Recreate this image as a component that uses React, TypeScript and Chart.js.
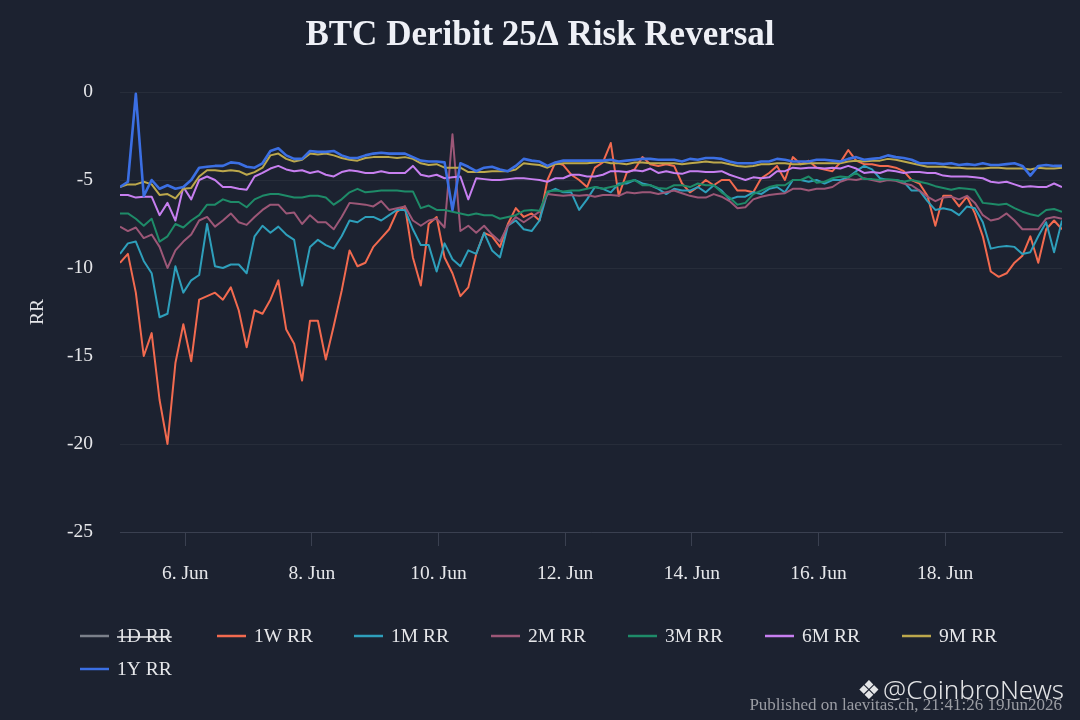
import React, { useEffect, useRef } from 'react';
import { Chart, registerables } from 'chart.js';

Chart.register(...registerables);

const TITLE = 'BTC Deribit 25Δ Risk Reversal';
const Y_TITLE = 'RR';
const CREDITS = 'Published on laevitas.ch, 21:41:26 19Jun2026';
const WATERMARK = '@CoinbroNews';
const SERIES_NAMES = ['1D RR', '1W RR', '1M RR', '2M RR', '3M RR', '6M RR', '9M RR', '1Y RR'];
const SERIES_COLORS = ['#7b808a', '#f26a4f', '#2e9fbb', '#9c5777', '#1e8b68', '#c77ff0', '#bca84c', '#3b6fe3'];
const SERIES_HIDDEN = [true, false, false, false, false, false, false, false];
const Y_TICKS = [0, -5, -10, -15, -20, -25];
const X_TICK_DAYS = [6, 8, 10, 12, 14, 16, 18];
const MONTH = 'Jun';
const START_DAY = 4.97; // day-of-June of the first sample
const STEP_DAY = 0.125; // 3-hour samples

const RR_1D: number[] = [];
const RR_1W = [
  -9.7, -9.2, -11.4, -15.0, -13.7, -17.5, -20.0, -15.4, -13.2, -15.3,
  -11.8, -11.6, -11.4, -11.8, -11.1, -12.4, -14.5, -12.4, -12.6, -11.8,
  -10.7, -13.5, -14.3, -16.4, -13.0, -13.0, -15.2, -13.3, -11.3, -9.0,
  -9.9, -9.7, -8.8, -8.3, -7.8, -6.8, -6.5, -9.4, -11.0, -7.5,
  -7.1, -9.4, -10.3, -11.6, -11.1, -9.2, -8.0, -8.2, -8.8, -7.5,
  -6.6, -7.1, -6.9, -7.3, -5.0, -4.0, -4.15, -4.7, -5.0, -5.4,
  -4.3, -4.0, -2.9, -5.9, -4.6, -4.4, -3.7, -4.1, -4.2, -4.1,
  -4.2, -5.2, -5.7, -5.4, -5.0, -5.3, -5.0, -5.0, -5.6, -5.6,
  -5.7, -4.9, -4.6, -4.2, -5.0, -3.7, -4.1, -3.9, -4.3, -4.4,
  -4.5, -4.0, -3.3, -3.9, -4.1, -4.1, -4.2, -4.2, -4.3, -4.5,
  -5.0, -5.2, -5.9, -7.6, -5.9, -5.9, -6.5, -5.95, -6.9, -8.2,
  -10.2, -10.5, -10.3, -9.7, -9.3, -8.2, -9.7, -7.8, -7.3, -7.8,
];
const RR_1M = [
  -9.2, -8.6, -8.5, -9.6, -10.3, -12.8, -12.6, -9.9, -11.4, -10.7,
  -10.4, -7.5, -9.9, -10.0, -9.8, -9.8, -10.3, -8.2, -7.6, -8.0,
  -7.65, -8.1, -8.4, -11.0, -8.8, -8.4, -8.7, -8.9, -8.2, -7.3,
  -7.4, -7.1, -7.1, -7.3, -7.0, -6.7, -6.7, -7.8, -8.7, -8.7,
  -10.2, -8.6, -9.5, -9.9, -9.0, -9.2, -8.0, -9.0, -9.4, -7.6,
  -7.3, -7.8, -7.9, -7.3, -5.7, -5.5, -5.7, -5.7, -6.7, -6.1,
  -5.4, -5.5, -5.7, -5.2, -5.2, -5.0, -5.2, -5.3, -5.5, -5.8,
  -5.5, -5.6, -5.6, -5.4, -5.7, -5.3, -5.6, -6.1, -5.95, -5.95,
  -5.7, -5.8, -5.5, -5.4, -5.7, -5.0, -5.0, -5.1, -5.0, -5.2,
  -5.0, -5.0, -4.85, -4.5, -4.2, -4.4, -4.9, -5.0, -5.0, -5.1,
  -5.6, -5.6, -6.2, -6.7, -6.6, -6.7, -7.0, -6.5, -6.6, -7.4,
  -8.9, -8.8, -8.75, -8.8, -9.2, -9.1, -8.2, -7.4, -9.1, -7.3,
];
const RR_2M = [
  -7.65, -7.9, -7.7, -8.3, -8.1, -8.8, -10.0, -9.0, -8.5, -8.1,
  -7.3, -7.1, -7.65, -7.3, -6.9, -7.4, -7.55, -7.1, -6.7, -6.4,
  -6.4, -6.9, -6.85, -7.5, -7.0, -7.4, -7.4, -7.8, -7.1, -6.3,
  -6.35, -6.4, -6.5, -6.2, -6.7, -6.6, -6.5, -7.3, -7.6, -7.3,
  -7.2, -7.7, -2.4, -7.9, -7.6, -8.0, -7.6, -8.1, -8.5, -7.6,
  -7.1, -7.4, -7.1, -6.8, -5.8, -5.85, -5.9, -5.85, -5.9, -5.85,
  -5.95, -5.85, -5.85, -5.9, -5.7, -5.75, -5.7, -5.7, -5.8, -5.7,
  -5.6, -5.75, -5.9, -6.0, -6.0, -5.8, -5.95, -6.2, -6.6, -6.55,
  -6.1, -5.95, -5.85, -5.8, -5.75, -5.5, -5.5, -5.6, -5.5, -5.5,
  -5.4, -5.1, -4.95, -5.0, -4.9, -5.0, -5.1, -5.0, -5.05, -5.2,
  -5.3, -5.6, -5.95, -6.2, -6.0, -5.95, -6.1, -5.9, -6.3, -7.0,
  -7.3, -7.2, -6.9, -7.3, -7.8, -7.8, -7.8, -7.2, -7.1, -7.2,
];
const RR_3M = [
  -6.9, -6.9, -7.2, -7.6, -7.2, -8.5, -8.2, -7.5, -7.7, -7.3,
  -7.0, -6.4, -6.4, -6.1, -6.25, -6.25, -6.55, -6.1, -5.9, -5.8,
  -5.8, -5.9, -6.0, -6.0, -5.9, -5.9, -6.0, -6.4, -6.1, -5.7,
  -5.5, -5.7, -5.65, -5.6, -5.6, -5.6, -5.65, -5.65, -6.6, -6.45,
  -6.7, -6.7, -6.8, -6.9, -7.0, -6.9, -7.0, -7.0, -7.2, -7.1,
  -7.0, -6.75, -6.7, -6.75, -5.65, -5.6, -5.65, -5.6, -5.6, -5.5,
  -5.4, -5.5, -5.4, -5.3, -5.1, -5.0, -5.3, -5.3, -5.45, -5.5,
  -5.3, -5.3, -5.4, -5.2, -5.3, -5.3, -5.7, -6.0, -6.4, -6.3,
  -5.8, -5.6, -5.4, -5.3, -5.3, -5.0, -5.0, -4.8, -5.15, -5.1,
  -4.9, -4.8, -4.85, -4.6, -4.95, -4.95, -5.0, -4.95, -5.0, -5.1,
  -5.0, -5.1, -5.2, -5.35, -5.45, -5.55, -5.45, -5.5, -5.55, -6.3,
  -6.35, -6.4, -6.35, -6.6, -6.8, -6.95, -7.05, -6.7, -6.65, -6.8,
];
const RR_6M = [
  -5.85, -5.85, -6.0, -5.95, -5.95, -7.0, -6.3, -7.3, -5.4, -6.1,
  -5.0, -4.8, -5.0, -5.4, -5.4, -5.5, -5.55, -4.8, -4.6, -4.35,
  -4.2, -4.4, -4.5, -4.45, -4.6, -4.5, -4.7, -4.8, -4.55, -4.45,
  -4.5, -4.6, -4.6, -4.5, -4.6, -4.6, -4.6, -4.2, -4.7, -4.8,
  -4.7, -4.9, -4.85, -4.8, -6.1, -4.9, -4.95, -5.0, -5.0, -4.95,
  -4.9, -4.9, -4.95, -5.0, -5.1, -4.9, -4.9, -4.7, -4.7, -4.8,
  -4.8, -4.7, -4.5, -4.5, -4.55, -4.45, -4.5, -4.35, -4.6, -4.5,
  -4.6, -4.65, -4.5, -4.5, -4.55, -4.55, -4.5, -4.7, -4.85, -5.0,
  -4.85, -4.9, -4.85, -4.5, -4.5, -4.3, -4.35, -4.3, -4.3, -4.35,
  -4.3, -4.35, -4.2, -4.35, -4.6, -4.55, -4.6, -4.45, -4.5, -4.6,
  -4.55, -4.55, -4.6, -4.6, -4.75, -4.8, -4.8, -4.8, -4.85, -4.9,
  -5.1, -5.15, -5.1, -5.25, -5.4, -5.35, -5.4, -5.4, -5.2, -5.4,
];
const RR_9M = [
  -5.4, -5.25, -5.25, -5.1, -5.25, -5.85, -5.8, -6.05, -5.5, -5.45,
  -4.8, -4.45, -4.45, -4.5, -4.45, -4.5, -4.7, -4.55, -4.3, -3.6,
  -3.5, -3.8, -3.95, -3.85, -3.5, -3.55, -3.5, -3.6, -3.75, -3.85,
  -3.9, -3.75, -3.7, -3.7, -3.7, -3.75, -3.7, -3.8, -4.05, -4.15,
  -4.1, -4.3, -4.3, -4.3, -4.55, -4.55, -4.55, -4.5, -4.5, -4.5,
  -4.4, -4.05, -4.1, -4.15, -4.3, -4.1, -4.05, -4.05, -4.05, -4.05,
  -4.0, -3.95, -4.05, -4.05, -4.1, -4.0, -4.0, -4.05, -4.05, -4.05,
  -4.05, -4.1, -4.05, -4.0, -3.95, -4.0, -4.0, -4.1, -4.2, -4.25,
  -4.2, -4.1, -4.1, -4.05, -4.05, -4.1, -4.1, -4.05, -4.05, -4.05,
  -4.05, -4.05, -3.95, -3.9, -3.95, -3.9, -3.9, -3.8, -3.85, -3.95,
  -4.05, -4.15, -4.25, -4.25, -4.25, -4.3, -4.3, -4.35, -4.35, -4.35,
  -4.3, -4.3, -4.35, -4.35, -4.35, -4.4, -4.3, -4.35, -4.35, -4.3,
];
const RR_1Y = [
  -5.4, -5.1, -0.1, -5.9, -5.0, -5.5, -5.3, -5.5, -5.4, -5.0,
  -4.3, -4.25, -4.2, -4.2, -4.0, -4.05, -4.25, -4.3, -4.05, -3.35,
  -3.2, -3.6, -3.8, -3.8, -3.35, -3.4, -3.4, -3.35, -3.6, -3.75,
  -3.75, -3.6, -3.5, -3.45, -3.5, -3.5, -3.5, -3.7, -3.9, -3.95,
  -3.95, -4.0, -6.7, -4.05, -4.25, -4.5, -4.3, -4.25, -4.4, -4.5,
  -4.2, -3.8, -3.9, -3.95, -4.2, -4.0, -3.9, -3.9, -3.9, -3.9,
  -3.9, -3.9, -3.85, -3.95, -3.9, -3.85, -3.8, -3.8, -3.85, -3.85,
  -3.85, -3.95, -3.8, -3.85, -3.75, -3.75, -3.8, -3.95, -4.05, -4.05,
  -4.05, -3.95, -3.95, -3.8, -3.85, -3.95, -3.95, -3.95, -3.85, -3.85,
  -3.9, -3.95, -3.8, -3.7, -3.85, -3.8, -3.75, -3.6, -3.7, -3.75,
  -3.85, -4.05, -4.05, -4.05, -4.1, -4.05, -4.15, -4.1, -4.15, -4.05,
  -4.15, -4.15, -4.1, -4.05, -4.2, -4.75, -4.2, -4.15, -4.2, -4.2,
];

const SERIES_VALUES = [RR_1D, RR_1W, RR_1M, RR_2M, RR_3M, RR_6M, RR_9M, RR_1Y];
const TIMES = RR_1W.map((_, i) => START_DAY + i * STEP_DAY);

const W = 1080;
const H = 720;
const BG = '#1c2230';
const SERIF = '"Liberation Serif", "Times New Roman", serif';
const TEXT = '#e6e7ea';

const extrasPlugin = {
  id: 'legendAndCredits',
  afterDraw(chart: any) {
    const ctx = chart.ctx as CanvasRenderingContext2D;
    ctx.save();
    const left = 80;
    const step = 137;
    const top = 636;
    const rowH = 33;
    const perRow = 7;
    ctx.font = `19.5px ${SERIF}`;
    ctx.textBaseline = 'middle';
    ctx.textAlign = 'left';
    chart.data.datasets.forEach((ds: any, k: number) => {
      const x = left + (k % perRow) * step;
      const y = top + Math.floor(k / perRow) * rowH;
      ctx.strokeStyle = ds.borderColor;
      ctx.lineWidth = 2.5;
      ctx.beginPath();
      ctx.moveTo(x, y);
      ctx.lineTo(x + 29, y);
      ctx.stroke();
      ctx.fillStyle = TEXT;
      ctx.fillText(ds.label, x + 37, y + 1);
      if (ds.hidden) {
        const w = ctx.measureText(ds.label).width;
        ctx.strokeStyle = TEXT;
        ctx.lineWidth = 1.5;
        ctx.beginPath();
        ctx.moveTo(x + 37, y + 1);
        ctx.lineTo(x + 37 + w, y + 1);
        ctx.stroke();
      }
    });
    ctx.textAlign = 'right';
    ctx.font = `17px ${SERIF}`;
    ctx.fillStyle = '#9a9ca3';
    ctx.fillText(CREDITS, 1062, 706);
    ctx.font = '300 26px "Noto Sans", "Open Sans", sans-serif';
    ctx.fillStyle = 'rgba(255,255,255,0.88)';
    ctx.fillText(WATERMARK, 1064, 692);
    ctx.font = '26px "DejaVu Sans", sans-serif';
    ctx.textAlign = 'center';
    ctx.fillText('❖', 869, 692);
    ctx.restore();
  },
};

export default function App() {
  const ref = useRef<HTMLCanvasElement | null>(null);

  useEffect(() => {
    document.body.style.margin = '0';
    document.body.style.background = BG;
    const canvas = ref.current;
    if (!canvas) return;
    const datasets = SERIES_NAMES.map((name, k) => ({
      label: name,
      data: SERIES_VALUES[k].map((v, i) => ({ x: TIMES[i], y: v })),
      borderColor: SERIES_COLORS[k],
      backgroundColor: SERIES_COLORS[k],
      borderWidth: k === 7 ? 2.6 : 2,
      pointRadius: 0,
      tension: 0,
      borderJoinStyle: 'round' as const,
      hidden: SERIES_HIDDEN[k],
      order: SERIES_NAMES.length - 1 - k,
    }));
    const chart = new Chart(canvas, {
      type: 'line',
      data: { datasets },
      plugins: [extrasPlugin],
      options: {
        animation: false,
        responsive: false,
        maintainAspectRatio: false,
        events: [],
        layout: { padding: { left: 18, right: 18, top: 0, bottom: 0 } },
        plugins: {
          legend: { display: false },
          tooltip: { enabled: false },
          title: {
            display: true,
            text: TITLE,
            color: '#eef0f6',
            font: { family: SERIF, size: 35, weight: 'bold', lineHeight: 1.2 },
            padding: { top: 15, bottom: 35 },
          },
        },
        scales: {
          x: {
            type: 'linear',
            min: TIMES[0],
            max: TIMES[TIMES.length - 1],
            afterBuildTicks: (s: any) => {
              s.ticks = X_TICK_DAYS.map((v) => ({ value: v }));
            },
            afterFit: (s: any) => {
              s.height = 188;
            },
            ticks: {
              autoSkip: false,
              maxRotation: 0,
              color: TEXT,
              font: { family: SERIF, size: 19.5 },
              padding: 16,
              callback: (v: any) => `${v}. ${MONTH}`,
            },
            grid: { drawOnChartArea: false, drawTicks: true, tickLength: 14, color: '#3a4050', lineWidth: 1 },
            border: { display: true, color: '#3a4050', width: 1 },
          },
          y: {
            type: 'linear',
            min: Y_TICKS[Y_TICKS.length - 1],
            max: Y_TICKS[0],
            afterBuildTicks: (s: any) => {
              s.ticks = Y_TICKS.map((v) => ({ value: v }));
            },
            afterFit: (s: any) => {
              s.width = 102;
            },
            ticks: { color: TEXT, font: { family: SERIF, size: 19.5 }, padding: 27 },
            grid: { color: 'rgba(255,255,255,0.05)', drawTicks: false, lineWidth: 1 },
            border: { display: false },
            title: {
              display: true,
              text: Y_TITLE,
              color: TEXT,
              font: { family: SERIF, size: 19.5 },
              padding: { top: 8, bottom: 0 },
            },
          },
        },
      },
    } as any);
    return () => chart.destroy();
  }, []);

  return (
    <div style={{ position: 'absolute', left: 0, top: 0, width: W, height: H, background: BG }}>
      <canvas ref={ref} width={W} height={H} style={{ width: W, height: H, display: 'block' }} />
    </div>
  );
}
